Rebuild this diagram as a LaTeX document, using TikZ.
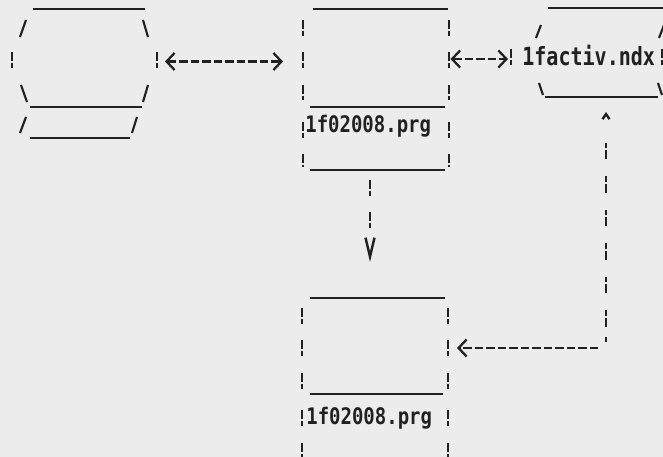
\documentclass[tikz,border=0pt]{standalone}
\usepackage{graphicx}
\usepackage{fontspec}
\newfontfamily\dotfont{DejaVu Sans Mono}
\usetikzlibrary{arrows.meta}
\definecolor{paper}{gray}{0.925}
\definecolor{ink}{gray}{0.13}
\newcommand{\tallname}[2][1.2]{\scalebox{1}[#1]{#2}}

\begin{document}
\begin{tikzpicture}[
  x=0.2mm, y=-0.2mm,
  rule/.style={draw=ink, line width=1.4pt},
  slash/.style={draw=ink, line width=1.2pt},
  bang/.style={draw=ink, line width=1.4pt,
    dash pattern=on 1.8mm off 0.4mm on 1mm off 3.3mm},
  link/.style={draw=ink, line width=1.3pt, dash pattern=on 1.7mm off 0.6mm},
  drop/.style={draw=ink, line width=1.4pt,
    dash pattern=on 1.8mm off 0.4mm on 1mm off 3.2mm on 1.8mm off 0.4mm on 1mm off 14mm},
  riser/.style={draw=ink, line width=1.4pt,
    dash pattern=on 1mm off 2mm on 1.8mm off .4mm on 1.1mm off 3.4mm
      on 1.8mm off .4mm on 1.1mm off 3.4mm on 1.8mm off .4mm on 1.1mm off 3.4mm
      on 1.8mm off .4mm on 1.1mm off 3.4mm on 1.8mm off .4mm on 1.1mm off 3.4mm
      on 1.8mm off .4mm on 1.1mm off 14mm},
  chev/.tip={Straight Barb[length=1.6mm, width=3.4mm]},
  vtip/.tip={Straight Barb[length=3.8mm, width=1.8mm]},
  caret/.tip={Straight Barb[length=1mm, width=1.4mm]},
  fname/.style={inner sep=0pt, anchor=base west, text=ink,
    font=\dotfont\bfseries\fontsize{10.8pt}{13pt}\selectfont}
]
  \useasboundingbox (0,0) rectangle (663,457);
  \fill[paper] (0,0) rectangle (663,457);
  \clip (0,0) rectangle (663,457);

  % left hexagon
  \draw[rule] (33,9) -- (145,9);
  \draw[slash] (26,20) -- (20,37);
  \draw[slash] (143,20) -- (148,37);
  \draw[bang] (12,52) -- (12,70);
  \draw[bang] (157,52) -- (157,70);
  \draw[slash] (21,85) -- (27,102);
  \draw[slash] (148,85) -- (143,102);
  \draw[rule] (30,107) -- (142,107);
  \draw[slash] (26,117) -- (20,133);
  \draw[slash] (137,117) -- (132,133);
  \draw[rule] (30,138) -- (130,138);
  \coordinate (hexR) at (157,61.5);

  % upper program box
  \node[fname] (prgA) at (305,133) {\tallname{1f02008.prg}};
  \draw[rule] (313,9) -- (448,9);
  \draw[bang] (303,20) -- (303,100);
  \draw[bang] (449,20) -- (449,100);
  \draw[rule] (310,107) -- (445,107);
  \draw[bang] (303,122) -- (303,167);
  \draw[bang] (449,122) -- (449,167);
  \draw[rule] (310,170) -- (445,170);
  \coordinate (prgAW) at (303,61.5);
  \coordinate (prgAE) at (449,59);
  \coordinate (prgAS) at (370,170);

  % index file
  \node[fname, font=\dotfont\bfseries\fontsize{11.4pt}{13pt}\selectfont] (ndx) at (522,66)
    {\tallname[1.25]{1factiv.ndx}};
  \draw[rule] (548,8) -- (670,8);
  \draw[slash] (541,25) -- (536,38);
  \draw[slash] (664,25) -- (659,38);
  \draw[bang] (511,49) -- (511,67);
  \draw[bang] (662,49) -- (662,67);
  \draw[slash] (539,83) -- (543,95);
  \draw[slash] (658,83) -- (662,95);
  \draw[rule] (545,97) -- (658,97);
  \coordinate (ndxW) at (511,59);
  \coordinate (ndxS) at (606,97);

  % lower program box
  \node[fname] (prgB) at (306,425) {\tallname{1f02008.prg}};
  \draw[rule] (310,298) -- (445,298);
  \draw[bang] (302,308) -- (302,389);
  \draw[bang] (448,308) -- (448,389);
  \draw[rule] (310,394) -- (443,394);
  \draw[bang] (302,410) -- (302,462);
  \draw[bang] (448,410) -- (448,462);
  \coordinate (prgBN) at (370,298);
  \coordinate (prgBE) at (448,348);

  \coordinate (bend) at (606,348);

  \draw[link, arrows={chev-chev}, shorten <=1.6mm, shorten >=4mm] (hexR) -- (prgAW);
  \draw[link, arrows={chev-chev}, shorten <=0.3mm, shorten >=0.6mm] (prgAE) -- (ndxW);
  \draw[drop, arrows={-vtip}, shorten <=2mm, shorten >=7.2mm] (prgAS) -- (prgBN);
  \draw[link, arrows={-chev}, shorten <=1.6mm, shorten >=1.8mm] (bend) -- (prgBE);
  \draw[riser, arrows={-caret}, shorten <=1.2mm, shorten >=3mm] (bend) -- (ndxS);
\end{tikzpicture}
\end{document}
